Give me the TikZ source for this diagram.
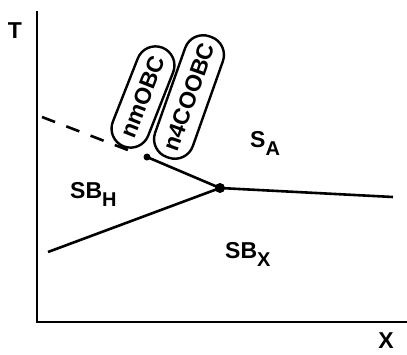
\documentclass[tikz,border=0pt]{standalone}
\usepackage{fontspec}
\setsansfont{Liberation Sans}
\usepackage{tikz}
\usetikzlibrary{positioning,calc}
\tikzset{
  axis/.style={line width=2.8pt, line cap=rect},
  phaseline/.style={line width=2.6pt},
  dashedline/.style={line width=2.6pt, dash pattern=on 14pt off 12pt},
  dot/.style={circle, fill=black, inner sep=0pt, minimum size=#1},
  lbl/.style={font=\sffamily\bfseries\fontsize{23}{23}\selectfont, inner sep=0pt},
  capsule/.style={draw=black, line width=2.4pt, rounded corners=19pt, inner sep=0pt, align=center,
    font=\sffamily\bfseries\fontsize{23}{23}\selectfont}
}
\newcommand{\lowsub}[1]{\raisebox{-8pt}{\fontsize{20}{20}\selectfont #1}}

\begin{document}
\begin{tikzpicture}[x=1pt,y=-1pt]
\useasboundingbox (0,0) rectangle (407,354);
% axes
\coordinate (top) at (37,12);
\coordinate (origin) at (37,322);
\coordinate (right) at (407,322);
\draw[axis] (top) -- (origin) -- (right);
\node[lbl] (tlabel) at (15,31) {T};
\node[lbl] (xlabel) at (386,341) {X};

% phase boundaries
\coordinate (dashstart) at (42,117);
\coordinate (dashend) at (133,152);
\coordinate (lowstart) at (48,252);
\coordinate (rightend) at (393,197);
\node[dot=7pt] (enddot) at (147,157) {};
\node[dot=10pt] (triple) at (220,188) {};
\draw[dashedline] (dashstart) -- (dashend);
\draw[phaseline] (enddot.center) -- (triple.center);
\draw[phaseline] (lowstart) -- (triple.center);
\draw[phaseline] (triple.center) -- (rightend);

% phase labels
\node[lbl, anchor=base west] (sa) at (250,147) {S\lowsub{A}};
\node[lbl, anchor=base west] (sbh) at (70,198) {SB\lowsub{H}};
\node[lbl, anchor=base west] (sbx) at (225,258) {SB\lowsub{X}};

% compounds
\node[capsule, rotate=68.5, minimum width=106pt, minimum height=38pt] (nmobc) at (143,97) {nmOBC};
\node[capsule, rotate=70.5, minimum width=128pt, minimum height=40pt] (nfour) at (189,97) {n4COOBC};
\end{tikzpicture}
\end{document}
